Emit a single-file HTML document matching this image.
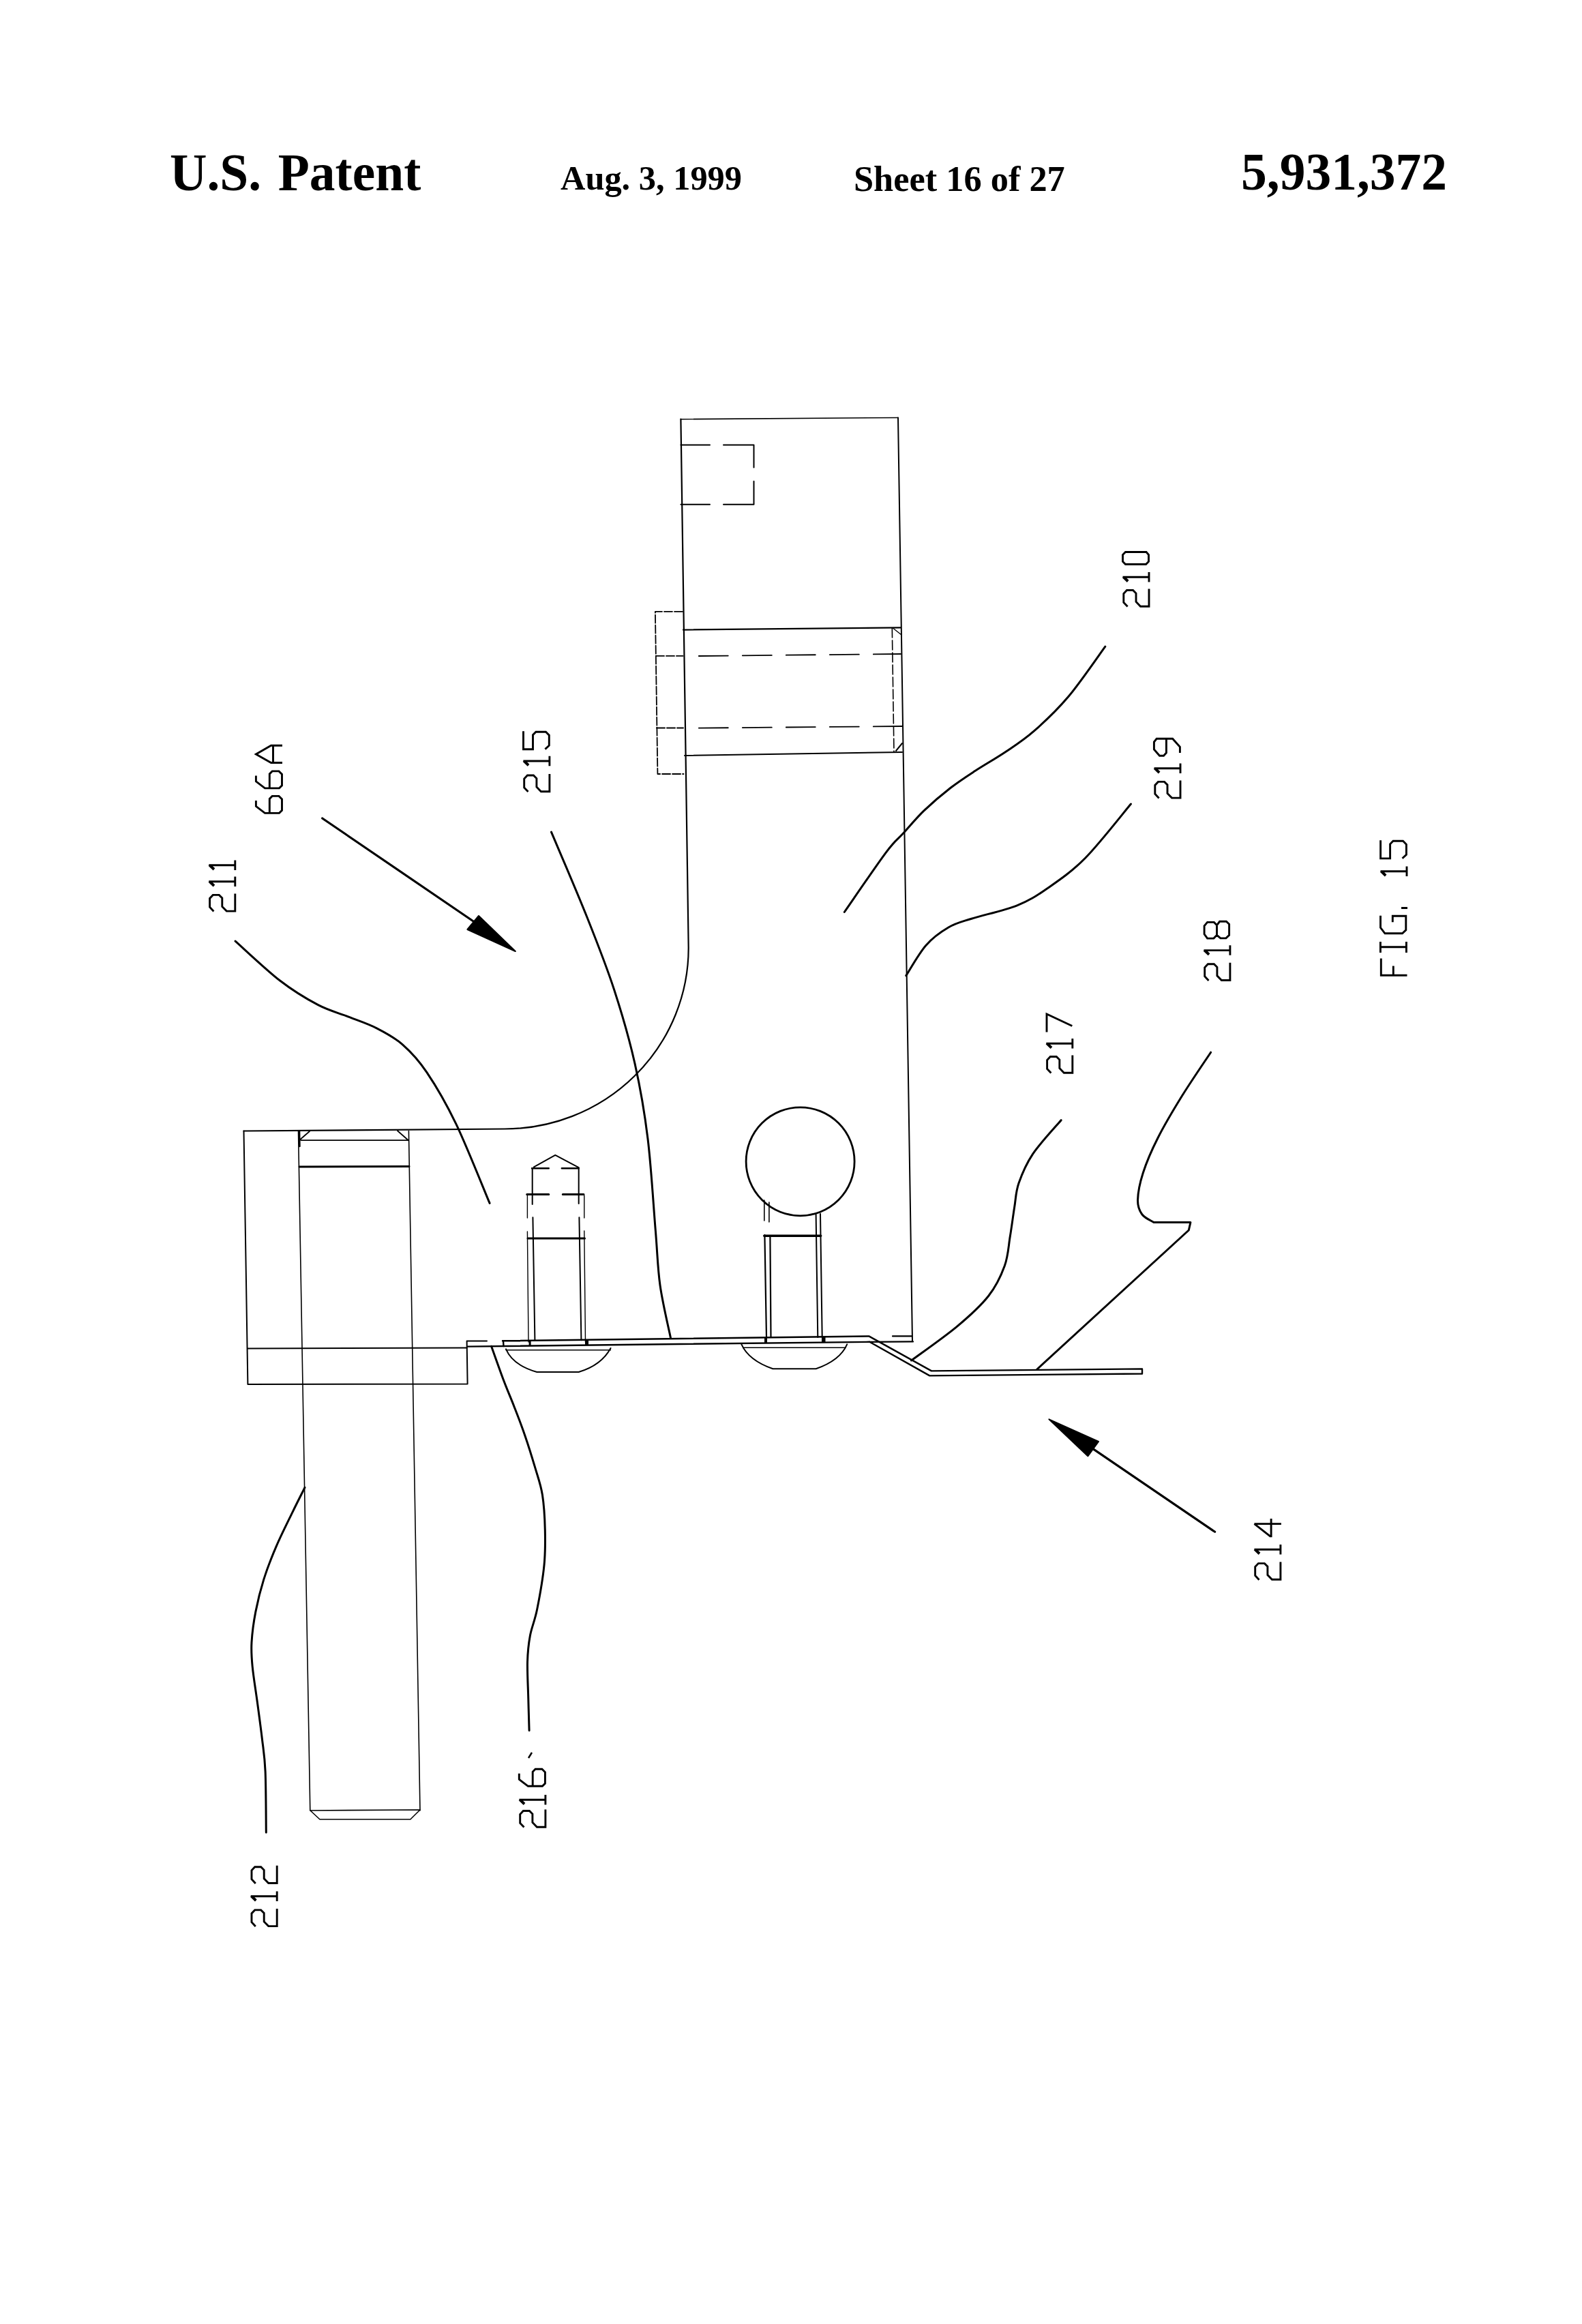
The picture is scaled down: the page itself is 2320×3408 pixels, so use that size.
<!DOCTYPE html>
<html><head><meta charset="utf-8"><title>U.S. Patent 5,931,372 Sheet 16</title>
<style>
html,body{margin:0;padding:0;background:#fff;}
body{width:2320px;height:3408px;position:relative;overflow:hidden;}
.hd{position:absolute;font-family:"Liberation Serif",serif;font-weight:bold;color:#000;white-space:nowrap;line-height:1;}
svg{position:absolute;left:0;top:0;}
</style></head><body>
<div class="hd" id="h1" style="left:249px;top:213px;font-size:79px;transform:scaleX(0.955);transform-origin:0 0;word-spacing:6px;">U.S. Patent</div>
<div class="hd" id="h2" style="left:822px;top:236px;font-size:51px;transform:scaleX(0.988);transform-origin:0 0;">Aug. 3, 1999</div>
<div class="hd" id="h3" style="left:1252px;top:237px;font-size:52px;transform:scaleX(1.007);transform-origin:0 0;">Sheet 16 of 27</div>
<div class="hd" id="h4" style="left:1820px;top:212px;font-size:79px;transform:scaleX(0.956);transform-origin:0 0;">5,931,372</div>
<svg width="2320" height="3408" viewBox="0 0 2320 3408">
<g fill="none" stroke="#000" stroke-linecap="round" stroke-linejoin="round">
<path d="M998.4 614.7 L1009.7 1390 A269.7 265.5 0 0 1 740 1655.5 L357.5 1658.5" stroke-width="2.2"/>
<line x1="998.4" y1="614.7" x2="1317" y2="612.5" stroke-width="1.6"/>
<line x1="1317" y1="612.5" x2="1338" y2="1967" stroke-width="2"/>
<path d="M1309 1959.4 L1337.4 1959.4 M1275 1967.8 L1339 1967.4" stroke-width="2.2"/>
<path d="M998.4 652.6 L1041 652.6 M1061 652.6 L1105.5 652.6 L1105.5 685.4 M1105.5 705.7 L1105.5 739.8 L1061 739.8 M1041 739.8 L998.4 739.8" stroke-width="2"/>
<path d="M1001 896.8 L960.9 896.8 L964.4 1135 L1002.5 1135" stroke-width="1.8" stroke-dasharray="12 3"/>
<line x1="962" y1="961.9" x2="1001.5" y2="961.9" stroke-width="1.8" stroke-dasharray="12 3"/>
<line x1="963" y1="1067.6" x2="1002" y2="1067.6" stroke-width="2" stroke-dasharray="12 3"/>
<line x1="1002" y1="923.6" x2="1321" y2="920.3" stroke-width="2.2"/>
<line x1="1004" y1="1108" x2="1323" y2="1103" stroke-width="2"/>
<line x1="1308.3" y1="921" x2="1311" y2="1103" stroke-width="1.6" stroke-dasharray="14 4"/>
<line x1="1310" y1="921.5" x2="1322" y2="931" stroke-width="1.4"/>
<line x1="1314" y1="1101" x2="1323" y2="1090" stroke-width="2"/>
<line x1="1024.8" y1="962" x2="1321" y2="959" stroke-width="1.8" stroke-dasharray="43 21"/>
<line x1="1024.8" y1="1067.6" x2="1323" y2="1065" stroke-width="1.8" stroke-dasharray="43 21"/>
<path d="M357.5 1658.5 L363.4 2030 L685.6 2029.5 L684.6 1966.5 L714 1966.5" stroke-width="2"/>
<line x1="363" y1="1977.5" x2="684.6" y2="1976.5" stroke-width="2"/>
<line x1="437.5" y1="1658.6" x2="454.8" y2="2655" stroke-width="1.6"/>
<line x1="599.4" y1="1658.6" x2="616" y2="2655" stroke-width="1.6"/>
<path d="M439 1672 L454 1659 M441.5 1672.2 L598.9 1672 M583 1658.3 L598.9 1672.2" stroke-width="1.8"/>
<line x1="439" y1="1659" x2="439.4" y2="1681" stroke-width="2.6"/>
<line x1="439" y1="1711" x2="600" y2="1710.5" stroke-width="3"/>
<path d="M455 2655 L469 2668 L601.8 2668 L616 2654 M455 2655 L616 2654" stroke-width="1.6"/>
<path d="M737 1966.3 L1274.2 1959.4 L1366 2010.4 L1675 2007.4 L1675 2014.5 L1363.3 2017.4 L1275.2 1967.8 L686 1974.6" stroke-width="2.4"/>
<line x1="738" y1="1966.5" x2="738.5" y2="1974" stroke-width="2.4"/>
<path d="M782.9 1711.4 L814.3 1693.9 L848.7 1712.2" stroke-width="2"/>
<path d="M780 1713.3 L804.8 1713.3 M823.8 1713.3 L848.7 1713.3" stroke-width="2.4"/>
<path d="M780.7 1713 L780.7 1766 M848.7 1713 L848.7 1765" stroke-width="2"/>
<path d="M772.7 1751.5 L804.8 1751.5 M825.3 1751.5 L856 1751.5" stroke-width="3"/>
<path d="M773.4 1753 L773.4 1786 M773.4 1806 L775 1968 M856.8 1753 L856.8 1786 M856.8 1805 L858.5 1968" stroke-width="1.4"/>
<path d="M781.4 1785.3 L784.4 1965.2 M849.4 1785.3 L852.4 1965.2" stroke-width="2"/>
<line x1="774" y1="1816" x2="857.5" y2="1816" stroke-width="3"/>
<path d="M742 1978.4 Q752 2002 787.3 2012 L848.7 2012 Q882 2002 895.5 1977" stroke-width="2"/>
<line x1="742" y1="1979.8" x2="895.5" y2="1979.8" stroke-width="1.4"/>
<circle cx="1173.6" cy="1703.3" r="79.5" stroke-width="2.8"/>
<path d="M1120.8 1760 L1120.8 1790 M1127.9 1763 L1127.9 1792" stroke-width="1.6"/>
<path d="M1196.6 1781 L1199.3 1961 M1203 1780 L1205.7 1961" stroke-width="2"/>
<line x1="1120.8" y1="1812.3" x2="1203.6" y2="1812.3" stroke-width="3.5"/>
<path d="M1121.4 1811 L1124 1961 M1129.4 1814 L1130.5 1961" stroke-width="2.2"/>
<path d="M1087.4 1971.4 Q1098 1995 1133.4 2007.3 L1196.6 2007.3 Q1232 1995 1242.2 1971.4" stroke-width="2"/>
<line x1="1090" y1="1976.2" x2="1240" y2="1976.2" stroke-width="1.4"/>
<path d="M1121 1961 h4 v8 h-4 Z M1205 1961 h5.5 v8 h-5.5 Z M775.6 1965 h3 v8 h-3 Z M858 1964 h5 v8 h-5 Z" fill="#000" stroke="none"/>
<path d="M1620.8 948.1 C1611.8 960.4 1584 1001.2 1566.6 1021.8 C1549.2 1042.4 1531.8 1058.5 1516.5 1071.9 C1501.2 1085.4 1489.2 1092.8 1474.8 1102.5 C1460.4 1112.2 1443.8 1121.5 1430.3 1130.3 C1416.8 1139.1 1406.6 1145.6 1394.1 1155.3 C1381.6 1165 1366.8 1177.6 1355.2 1188.7 C1343.6 1199.8 1333.9 1211.9 1324.6 1222.1 C1315.3 1232.3 1313.9 1230.7 1299.5 1249.9 C1285.1 1269.1 1248.5 1322.9 1238.3 1337.5" stroke-width="3"/>
<path d="M1658.4 1179 C1647.3 1192.2 1612 1237.6 1591.6 1258.2 C1571.2 1278.8 1552.7 1291.1 1536 1302.7 C1519.3 1314.3 1510 1320.4 1491.5 1327.8 C1473 1335.2 1441.4 1341.9 1424.7 1347.2 C1408 1352.5 1402.4 1353.3 1391.3 1359.8 C1380.2 1366.3 1368.4 1374.4 1358 1386.2 C1347.6 1398 1333.6 1423.3 1328.7 1430.7" stroke-width="3"/>
<path d="M808.5 1220.1 C817.2 1240.8 845.2 1305.7 860.6 1344.3 C876 1382.9 889 1415.6 900.7 1451.5 C912.4 1487.4 922.8 1523.2 931 1559.6 C939.2 1596 945 1629.2 950 1670 C955 1710.8 958.3 1768.4 961.3 1804.2 C964.3 1840 964.3 1858.5 968 1884.8 C971.7 1911.1 980.9 1949.1 983.5 1962" stroke-width="3"/>
<path d="M345.1 1380.1 C356.1 1389.8 390.7 1422.7 410.9 1438.3 C431.1 1453.9 449.6 1464.8 466.5 1473.7 C483.4 1482.6 497.7 1485.7 512 1491.4 C526.3 1497.1 539.3 1501.1 552.4 1507.8 C565.5 1514.5 578.2 1521 590.4 1531.8 C602.6 1542.5 612.7 1552.9 625.8 1572.3 C638.9 1591.7 653.4 1616.1 668.8 1648.1 C684.2 1680.1 709.9 1745 718.1 1764.4" stroke-width="3"/>
<path d="M447 2181.3 C444.1 2187.2 436.2 2202.6 429.3 2216.8 C422.4 2231 412.8 2249.9 405.7 2266.4 C398.6 2282.9 391.9 2299.9 386.8 2316.1 C381.7 2332.3 377.9 2348 374.9 2363.4 C371.9 2378.8 369.8 2394.9 369 2408.3 C368.2 2421.7 368.8 2429.2 370.2 2443.8 C371.6 2458.4 374.9 2478.1 377.3 2495.8 C379.7 2513.5 382.4 2533.2 384.4 2550.2 C386.4 2567.1 388.1 2574.7 389.1 2597.5 C390.1 2620.3 390.1 2672.3 390.3 2687.3" stroke-width="3"/>
<path d="M720.6 1974.2 C723.6 1982.6 733.1 2009.7 738.7 2024.5 C744.3 2039.3 749.1 2049.9 754.2 2063.2 C759.4 2076.5 764.5 2089.4 769.6 2104.4 C774.8 2119.4 780.8 2138.8 785.1 2153.4 C789.4 2168 793 2177.1 795.4 2192.1 C797.8 2207.1 798.9 2226.5 799.3 2243.7 C799.7 2260.9 799.9 2276 798 2295.3 C796.1 2314.7 791.1 2342.6 787.7 2359.8 C784.3 2377 779.8 2385.6 777.4 2398.5 C775 2411.4 773.9 2421.7 773.5 2437.2 C773.1 2452.7 774.4 2474.5 774.8 2491.3 C775.2 2508.1 775.9 2530.1 776.1 2537.8" stroke-width="3"/>
<path d="M1336.5 1995 C1347.6 1986.7 1384.5 1961 1403.3 1945.3 C1422.1 1929.6 1437.7 1915.5 1449.4 1900.7 C1461.1 1885.9 1468 1870.8 1473.3 1856.2 C1478.6 1841.6 1478.9 1827.4 1481.3 1813.1 C1483.7 1798.8 1485.6 1783.1 1487.7 1770.1 C1489.8 1757.1 1489.5 1748.1 1494 1735.1 C1498.5 1722.1 1504.4 1707.5 1514.7 1692.1 C1525 1676.7 1549.2 1650.9 1556.1 1642.7" stroke-width="3"/>
<path d="M1775.6 1543.2 C1768.5 1554 1745.9 1586.9 1733 1607.8 C1720.1 1628.7 1707.6 1649.8 1698.1 1668.5 C1688.6 1687.2 1681.1 1705 1676.2 1720.2 C1671.3 1735.5 1668.7 1749.9 1668.5 1760 C1668.3 1770.1 1671.1 1775.6 1675 1781 C1678.9 1786.4 1689.2 1790.6 1692 1792.5 L1745.9 1792.5 L1743.3 1804 L1521 2007.8" stroke-width="3"/>
<line x1="472.7" y1="1200" x2="700" y2="1355" stroke-width="3.2"/>
<path d="M755.8 1395 L702 1343 L685.4 1363 Z" fill="#000" stroke-width="2"/>
<line x1="1604" y1="2125.4" x2="1781.6" y2="2246.3" stroke-width="3.2"/>
<path d="M1538.4 2081.3 L1611 2114 L1595.3 2135.3 Z" fill="#000" stroke-width="2"/>
</g>
<g fill="none" stroke="#000" stroke-width="2.9" stroke-linecap="butt" stroke-linejoin="miter">
<path d="M1.4 8.6 L7.6 2.8 L20.5 2.8 L25.5 7.5 L25.5 16.5 L21 21 L8.5 21 L1.8 27.5 L1.8 40 M0.3 40 L27.5 40" transform="translate(1645 891) rotate(-90)"/>
<path d="M14.2 1.5 L14.2 40 M7 40 L21.5 40 M14.2 1.8 L7.5 8.8 M14.2 3.5 L8.5 9.5" transform="translate(1645 860.4) rotate(-90)"/>
<path d="M9 1.5 L19 1.5 L23 5.5 L23 36 L19 39.5 L9 39.5 L5 35.5 L5 5.5 Z" transform="translate(1645 832.5) rotate(-90)"/>
<path d="M1.4 8.6 L7.6 2.8 L20.5 2.8 L25.5 7.5 L25.5 16.5 L21 21 L8.5 21 L1.8 27.5 L1.8 40 M0.3 40 L27.5 40" transform="translate(304.8 1337.9) rotate(-90)"/>
<path d="M14.2 1.5 L14.2 40 M7 40 L21.5 40 M14.2 1.8 L7.5 8.8 M14.2 3.5 L8.5 9.5" transform="translate(304.8 1307) rotate(-90)"/>
<path d="M14.2 1.5 L14.2 40 M7 40 L21.5 40 M14.2 1.8 L7.5 8.8 M14.2 3.5 L8.5 9.5" transform="translate(304.8 1282.9) rotate(-90)"/>
<path d="M1.4 8.6 L7.6 2.8 L20.5 2.8 L25.5 7.5 L25.5 16.5 L21 21 L8.5 21 L1.8 27.5 L1.8 40 M0.3 40 L27.5 40" transform="translate(366.2 2826.4) rotate(-90)"/>
<path d="M14.2 1.5 L14.2 40 M7 40 L21.5 40 M14.2 1.8 L7.5 8.8 M14.2 3.5 L8.5 9.5" transform="translate(366.2 2795) rotate(-90)"/>
<path d="M1.4 8.6 L7.6 2.8 L20.5 2.8 L25.5 7.5 L25.5 16.5 L21 21 L8.5 21 L1.8 27.5 L1.8 40 M0.3 40 L27.5 40" transform="translate(366.2 2763.3) rotate(-90)"/>
<path d="M1.4 8.6 L7.6 2.8 L20.5 2.8 L25.5 7.5 L25.5 16.5 L21 21 L8.5 21 L1.8 27.5 L1.8 40 M0.3 40 L27.5 40" transform="translate(1837.9 2318.1) rotate(-90)"/>
<path d="M14.2 1.5 L14.2 40 M7 40 L21.5 40 M14.2 1.8 L7.5 8.8 M14.2 3.5 L8.5 9.5" transform="translate(1837.9 2286.4) rotate(-90)"/>
<path d="M20.2 1.5 L20.2 41 M0.5 26.2 L27.8 26.2 M20.2 1.6 L1.5 25.5" transform="translate(1837.9 2254.8) rotate(-90)"/>
<path d="M1.4 8.6 L7.6 2.8 L20.5 2.8 L25.5 7.5 L25.5 16.5 L21 21 L8.5 21 L1.8 27.5 L1.8 40 M0.3 40 L27.5 40" transform="translate(765.9 1162.5) rotate(-90)"/>
<path d="M14.2 1.5 L14.2 40 M7 40 L21.5 40 M14.2 1.8 L7.5 8.8 M14.2 3.5 L8.5 9.5" transform="translate(765.9 1130.2) rotate(-90)"/>
<path d="M28 1.6 L1.4 1.6 L1.4 15.6 L22.5 15.6 L27 20 L27 34.5 L22 39.4 L7 39.4 L1.6 33.5" transform="translate(765.9 1100.2) rotate(-90)"/>
<path d="M1.4 8.6 L7.6 2.8 L20.5 2.8 L25.5 7.5 L25.5 16.5 L21 21 L8.5 21 L1.8 27.5 L1.8 40 M0.3 40 L27.5 40" transform="translate(759.9 2681) rotate(-90)"/>
<path d="M14.2 1.5 L14.2 40 M7 40 L21.5 40 M14.2 1.8 L7.5 8.8 M14.2 3.5 L8.5 9.5" transform="translate(759.9 2653.5) rotate(-90)"/>
<path d="M20 1.4 L11.5 1.4 L1.5 14.5 L1.5 35.5 L5.5 39.5 L22 39.5 L26.5 35 L26.5 25.2 L22.5 21.3 L1.5 21.3" transform="translate(759.9 2620.8) rotate(-90)"/>
<path d="M1.4 8.6 L7.6 2.8 L20.5 2.8 L25.5 7.5 L25.5 16.5 L21 21 L8.5 21 L1.8 27.5 L1.8 40 M0.3 40 L27.5 40" transform="translate(1532.8 1575) rotate(-90)"/>
<path d="M14.2 1.5 L14.2 40 M7 40 L21.5 40 M14.2 1.8 L7.5 8.8 M14.2 3.5 L8.5 9.5" transform="translate(1532.8 1544.5) rotate(-90)"/>
<path d="M0.5 2.2 L27 2.2 L9.5 39.5" transform="translate(1532.8 1514) rotate(-90)"/>
<path d="M1.4 8.6 L7.6 2.8 L20.5 2.8 L25.5 7.5 L25.5 16.5 L21 21 L8.5 21 L1.8 27.5 L1.8 40 M0.3 40 L27.5 40" transform="translate(1763.9 1439.3) rotate(-90)"/>
<path d="M14.2 1.5 L14.2 40 M7 40 L21.5 40 M14.2 1.8 L7.5 8.8 M14.2 3.5 L8.5 9.5" transform="translate(1763.9 1407.8) rotate(-90)"/>
<path d="M8 2.2 L20 2.2 L25.4 6.7 L25.4 16.5 L21 20.6 L26.5 24.7 L26.5 34.5 L22.5 38.7 L6.5 38.7 L1.9 34 L1.9 26 L6.5 20.6 L1.7 16 L1.7 6.7 Z M6.5 20.6 L21 20.6" transform="translate(1763.9 1377.8) rotate(-90)"/>
<path d="M1.4 8.6 L7.6 2.8 L20.5 2.8 L25.5 7.5 L25.5 16.5 L21 21 L8.5 21 L1.8 27.5 L1.8 40 M0.3 40 L27.5 40" transform="translate(1691 1171.9) rotate(-90)"/>
<path d="M14.2 1.5 L14.2 40 M7 40 L21.5 40 M14.2 1.8 L7.5 8.8 M14.2 3.5 L8.5 9.5" transform="translate(1691 1141) rotate(-90)"/>
<path d="M6 39.4 L14.6 39.4 L26.7 28.6 L26.7 5.2 L22 1.4 L11 1.4 L1.7 9.5 L1.7 15.5 L6 19.4 L26.7 19.4" transform="translate(1691 1110) rotate(-90)"/>
<path d="M20 1.4 L11.5 1.4 L1.5 14.5 L1.5 35.5 L5.5 39.5 L22 39.5 L26.5 35 L26.5 25.2 L22.5 21.3 L1.5 21.3" transform="translate(374 1193.9) rotate(-90)"/>
<path d="M20 1.4 L11.5 1.4 L1.5 14.5 L1.5 35.5 L5.5 39.5 L22 39.5 L26.5 35 L26.5 25.2 L22.5 21.3 L1.5 21.3" transform="translate(374 1157.4) rotate(-90)"/>
<path d="M1.4 40 L1.4 23.5 L14 1.4 L26.6 23.5 L26.6 40 M1.4 26.5 L26.6 26.5" transform="translate(374 1119.9) rotate(-90)"/>
<path d="M2.2 40.5 L2.2 2.3 L27 2.3 M2.2 20.3 L16 20.3" transform="translate(2023 1432.5) rotate(-90)"/>
<path d="M5 1.4 L21 1.4 M13.2 1.4 L13.2 39.4 M5 39.4 L21 39.4" transform="translate(2023 1401.9) rotate(-90)"/>
<path d="M27 1.5 L9.5 1.5 L1 8 L1 33.5 L6 38.8 L26.5 38.8 L26.5 19.3 L17.5 19.3" transform="translate(2023 1369.8) rotate(-90)"/>
<path d="M14.2 1.5 L14.2 40 M7 40 L21.5 40 M14.2 1.8 L7.5 8.8 M14.2 3.5 L8.5 9.5" transform="translate(2023 1292) rotate(-90)"/>
<path d="M28 1.6 L1.4 1.6 L1.4 15.6 L22.5 15.6 L27 20 L27 34.5 L22 39.4 L7 39.4 L1.6 33.5" transform="translate(2023 1260.3) rotate(-90)"/>
</g>
<rect x="2055" y="1330" width="9" height="3"/>
<path d="M775 2578 L780 2570" stroke="#000" stroke-width="2.5" fill="none"/>
</svg>
</body></html>
